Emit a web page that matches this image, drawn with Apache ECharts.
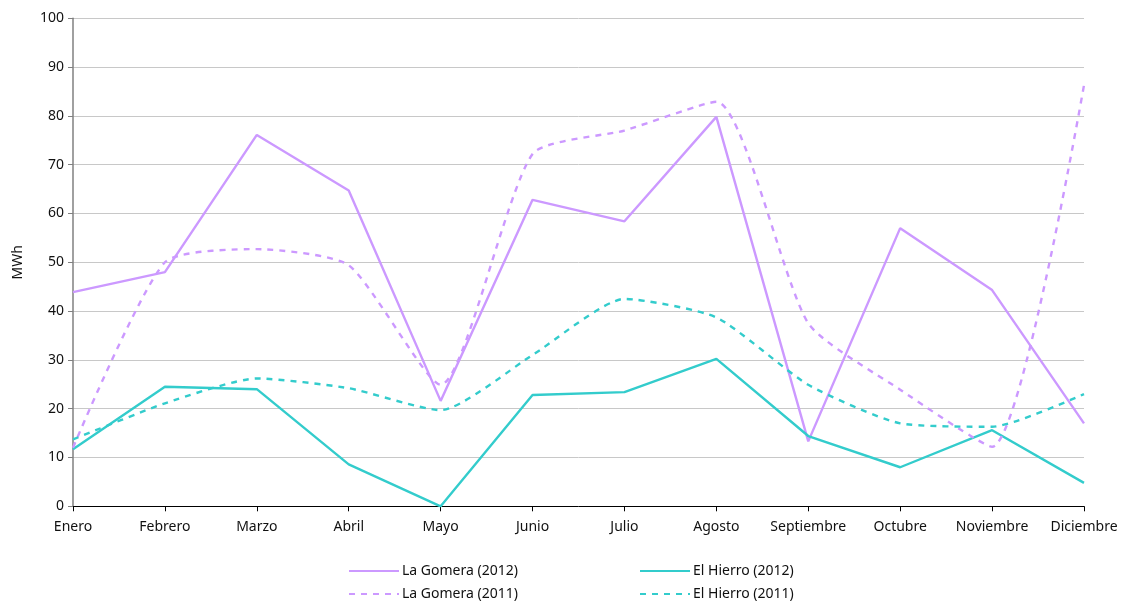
<!DOCTYPE html>
<html>
<head>
<meta charset="utf-8">
<script src="https://cdn.jsdelivr.net/npm/echarts@6/dist/echarts.min.js"></script>
<style>
html,body{margin:0;padding:0;background:#fff;}
#chart{width:1121px;height:606px;}
</style>
</head>
<body>
<div id="chart"></div>
<script>
const months = ['Enero','Febrero','Marzo','Abril','Mayo','Junio','Julio','Agosto','Septiembre','Octubre','Noviembre','Diciembre'];
const laGomera2012 = [43.9, 48.0, 76.1, 64.7, 21.6, 62.8, 58.4, 79.8, 13.3, 57.0, 44.3, 17.0];
const laGomera2011 = [12.0, 50.0, 52.7, 49.4, 24.9, 72.2, 77.0, 82.9, 37.5, 23.9, 12.2, 86.3];
const elHierro2012 = [11.7, 24.5, 24.0, 8.6, 0.0, 22.8, 23.4, 30.2, 14.4, 8.0, 15.6, 4.8];
const elHierro2011 = [13.7, 21.1, 26.2, 24.2, 19.7, 31.0, 42.5, 38.7, 24.9, 17.0, 16.3, 23.0];
const yTicks = [0,10,20,30,40,50,60,70,80,90,100];

const purple = '#CC99FF';
const teal = '#33CCCC';
const font = 'Noto Sans';
const fs = 14;

const chart = echarts.init(document.getElementById('chart'));
function mk(name, data, color, dashed){
  return {
    name, type:'line', data, symbol:'none', showSymbol:false,
    smooth: dashed ? 0.2 : false,
    lineStyle:{color, width:2.4, type: dashed ? [6,6] : 'solid'},
    itemStyle:{color},
    animation:false
  };
}
function lg(name, left, top){
  return {data:[name], left, top, itemWidth:50, itemHeight:14, itemGap:0,
    itemStyle:{opacity:0, borderWidth:0},
    textStyle:{fontSize:fs, color:'#111', fontFamily:font, padding:[0,0,0,-2]}};
}
chart.setOption({
  animation:false,
  textStyle:{fontFamily:font},
  grid:{left:73, right:37, top:18.3, bottom:99.7, containLabel:false},
  xAxis:{
    type:'category', data:months, boundaryGap:false,
    axisLine:{lineStyle:{color:'#000', width:1}},
    axisTick:{show:true, alignWithLabel:true, length:5, lineStyle:{color:'#000'}},
    axisLabel:{color:'#111', fontSize:fs, margin:14, fontFamily:font, interval:0},
    splitLine:{show:false}
  },
  yAxis:{
    type:'value', min:0, max:100, interval:10,
    name:'MWh', nameLocation:'middle', nameGap:48, nameRotate:90,
    nameTextStyle:{color:'#111', fontSize:fs, fontFamily:font},
    axisLine:{show:true, lineStyle:{color:'#808080', width:1.5}},
    axisTick:{show:true, length:5, lineStyle:{color:'#808080'}},
    axisLabel:{color:'#111', fontSize:fs, margin:9, fontFamily:font,
      formatter: v => yTicks.includes(v) ? String(v) : ''},
    splitLine:{show:true, lineStyle:{color:'#C8C8C8', width:1}}
  },
  legend:[
    lg('La Gomera (2012)', 343, 559),
    lg('La Gomera (2011)', 343, 582),
    lg('El Hierro (2012)', 634, 559),
    lg('El Hierro (2011)', 634, 582)
  ],
  series:[
    mk('La Gomera (2012)', laGomera2012, purple, false),
    mk('El Hierro (2012)', elHierro2012, teal, false),
    mk('La Gomera (2011)', laGomera2011, purple, true),
    mk('El Hierro (2011)', elHierro2011, teal, true)
  ]
});
</script>
</body>
</html>
